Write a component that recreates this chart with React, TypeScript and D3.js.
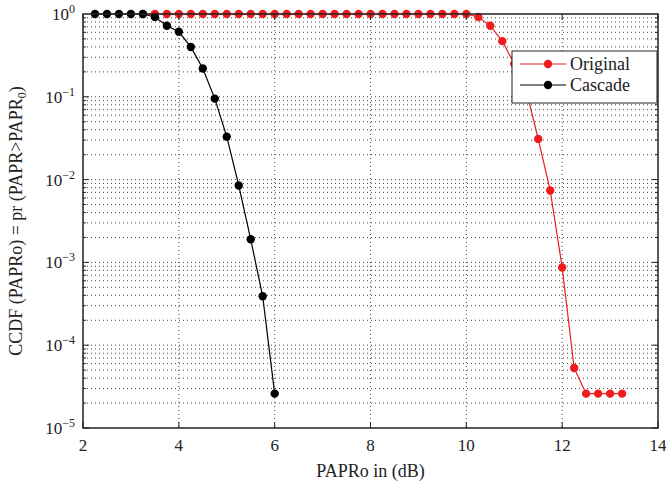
import React, { useEffect, useRef } from "react";
import * as d3 from "d3";

// PAPR0 thresholds (dB) and CCDF values
const cascadeX = [2.25, 2.5, 2.75, 3.0, 3.25, 3.5, 3.75, 4.0, 4.25, 4.5, 4.75, 5.0, 5.25, 5.5, 5.75, 6.0];
const cascadeY = [1, 1, 1, 1, 1, 0.92, 0.72, 0.61, 0.4, 0.22, 0.095, 0.033, 0.0085, 0.0019, 0.00039, 0.000026];

const originalX = [
  3.25, 3.5, 3.75, 4.0, 4.25, 4.5, 4.75, 5.0, 5.25, 5.5, 5.75, 6.0, 6.25, 6.5, 6.75, 7.0, 7.25, 7.5,
  7.75, 8.0, 8.25, 8.5, 8.75, 9.0, 9.25, 9.5, 9.75, 10.0, 10.25, 10.5, 10.75, 11.0, 11.25, 11.5,
  11.75, 12.0, 12.25, 12.5, 12.75, 13.0, 13.25,
];
const originalY = [
  1, 1, 1, 1, 1, 1, 1, 1, 1, 1, 1, 1, 1, 1, 1, 1, 1, 1,
  1, 1, 1, 1, 1, 1, 1, 1, 1, 1, 0.92, 0.72, 0.47, 0.25, 0.12, 0.031,
  0.0074, 0.00087, 0.000053, 0.000026, 0.000026, 0.000026, 0.000026,
];

const xTicks = [2, 4, 6, 8, 10, 12, 14];
const yDecades = [-5, -4, -3, -2, -1, 0];

const series = [
  { name: "Original", color: "#ee1c1c", xs: originalX, ys: originalY },
  { name: "Cascade", color: "#000000", xs: cascadeX, ys: cascadeY },
];

const W = 666;
const H = 487;
const margin = { top: 14, right: 8, bottom: 59, left: 83 };
const font = "Liberation Serif, Times New Roman, DejaVu Serif, serif";

export default function App() {
  const ref = useRef<SVGSVGElement>(null);

  useEffect(() => {
    const svg = d3.select(ref.current);
    svg.selectAll("*").remove();

    const x = d3.scaleLinear().domain([2, 14]).range([margin.left, W - margin.right]);
    const y = d3.scaleLog().domain([1e-5, 1]).range([H - margin.bottom, margin.top]);
    const [x0, x1] = x.range();
    const [y1, y0] = y.range();

    svg.append("rect").attr("width", W).attr("height", H).attr("fill", "#fff");

    // grid
    const grid = svg
      .append("g")
      .attr("stroke", "#333")
      .attr("stroke-width", 0.9)
      .attr("stroke-dasharray", "1,3");
    xTicks.slice(1, -1).forEach((t) => {
      grid.append("line").attr("x1", x(t)).attr("x2", x(t)).attr("y1", y0).attr("y2", y1);
    });
    const minor: number[] = [];
    yDecades.slice(0, -1).forEach((e) => {
      for (let m = 1; m <= 9; m++) minor.push(m * Math.pow(10, e));
    });
    minor.forEach((v) => {
      if (v === 1e-5) return;
      grid.append("line").attr("x1", x0).attr("x2", x1).attr("y1", y(v)).attr("y2", y(v));
    });

    // lines and markers
    svg
      .append("defs")
      .append("clipPath")
      .attr("id", "plotclip")
      .append("rect")
      .attr("x", x0)
      .attr("y", y0 - 8)
      .attr("width", x1 - x0)
      .attr("height", y1 - y0 + 8);
    const line = d3
      .line<[number, number]>()
      .x((d) => x(d[0]))
      .y((d) => y(d[1]));
    series.forEach((s) => {
      const pts = s.xs.map((v, i) => [v, s.ys[i]] as [number, number]);
      const g = svg.append("g").attr("clip-path", "url(#plotclip)");
      g.append("path")
        .attr("d", line(pts))
        .attr("fill", "none")
        .attr("stroke", s.color)
        .attr("stroke-width", 1.2);
      g.selectAll("circle")
        .data(pts)
        .enter()
        .append("circle")
        .attr("cx", (d) => x(d[0]))
        .attr("cy", (d) => y(d[1]))
        .attr("r", 4.2)
        .attr("fill", s.color);
    });

    // axes box
    svg.append("rect")
      .attr("x", x0)
      .attr("y", y0)
      .attr("width", x1 - x0)
      .attr("height", y1 - y0)
      .attr("fill", "none")
      .attr("stroke", "#222")
      .attr("stroke-width", 1.5);

    const ticks = svg.append("g").attr("stroke", "#222").attr("stroke-width", 1);
    xTicks.forEach((t) => {
      ticks.append("line").attr("x1", x(t)).attr("x2", x(t)).attr("y1", y1).attr("y2", y1 - 6);
      ticks.append("line").attr("x1", x(t)).attr("x2", x(t)).attr("y1", y0).attr("y2", y0 + 6);
    });
    minor.forEach((v) => {
      const len = Math.abs(Math.log10(v) - Math.round(Math.log10(v))) < 1e-9 ? 6 : 3;
      ticks.append("line").attr("x1", x0).attr("x2", x0 + len).attr("y1", y(v)).attr("y2", y(v));
      ticks.append("line").attr("x1", x1).attr("x2", x1 - len).attr("y1", y(v)).attr("y2", y(v));
    });

    // tick labels
    svg.append("g")
      .selectAll("text")
      .data(xTicks)
      .enter()
      .append("text")
      .attr("x", (d) => x(d))
      .attr("y", y1 + 23)
      .attr("text-anchor", "middle")
      .style("font-family", font)
      .attr("font-size", 17)
      .attr("fill", "#222")
      .text((d) => d);

    const yl = svg
      .append("g")
      .selectAll("text")
      .data(yDecades)
      .enter()
      .append("text")
      .attr("x", x0 - 8)
      .attr("y", (d) => y(Math.pow(10, d)) + 6)
      .attr("text-anchor", "end")
      .style("font-family", font)
      .attr("font-size", 17)
      .attr("fill", "#222");
    yl.append("tspan").text("10");
    yl.append("tspan")
      .attr("dy", -7)
      .attr("font-size", 12)
      .text((d) => (d === 0 ? "0" : "\u2212" + -d));

    // axis titles
    svg.append("text")
      .attr("x", (x0 + x1) / 2)
      .attr("y", H - 10)
      .attr("text-anchor", "middle")
      .style("font-family", font)
      .attr("font-size", 18)
      .attr("fill", "#222")
      .text("PAPRo in (dB)");

    const yt = svg
      .append("text")
      .attr("transform", `translate(22,${(y0 + y1) / 2}) rotate(-90)`)
      .attr("text-anchor", "middle")
      .style("font-family", font)
      .attr("font-size", 18)
      .attr("fill", "#222");
    yt.append("tspan").text("CCDF (PAPRo) = pr (PAPR>PAPR");
    yt.append("tspan").attr("dy", 4).attr("font-size", 12).text("0");
    yt.append("tspan").attr("dy", -4).text(")");

    // legend
    const lg = svg.append("g").attr("transform", "translate(512,51)");
    lg.append("rect")
      .attr("width", 145)
      .attr("height", 52)
      .attr("fill", "#fff")
      .attr("stroke", "#222")
      .attr("stroke-width", 1);
    series.forEach((s, i) => {
      const yy = 13 + i * 21;
      lg.append("line")
        .attr("x1", 8)
        .attr("x2", 54)
        .attr("y1", yy)
        .attr("y2", yy)
        .attr("stroke", s.color)
        .attr("stroke-width", 1.2);
      lg.append("circle").attr("cx", 36).attr("cy", yy).attr("r", 4.2).attr("fill", s.color);
      lg.append("text")
        .attr("x", 58)
        .attr("y", yy + 6)
        .style("font-family", font)
        .attr("font-size", 18)
        .attr("fill", "#222")
        .text(s.name);
    });
  }, []);

  return (
    <svg
      ref={ref}
      width={W}
      height={H}
      style={{ position: "absolute", left: 0, top: 0, display: "block" }}
    />
  );
}
